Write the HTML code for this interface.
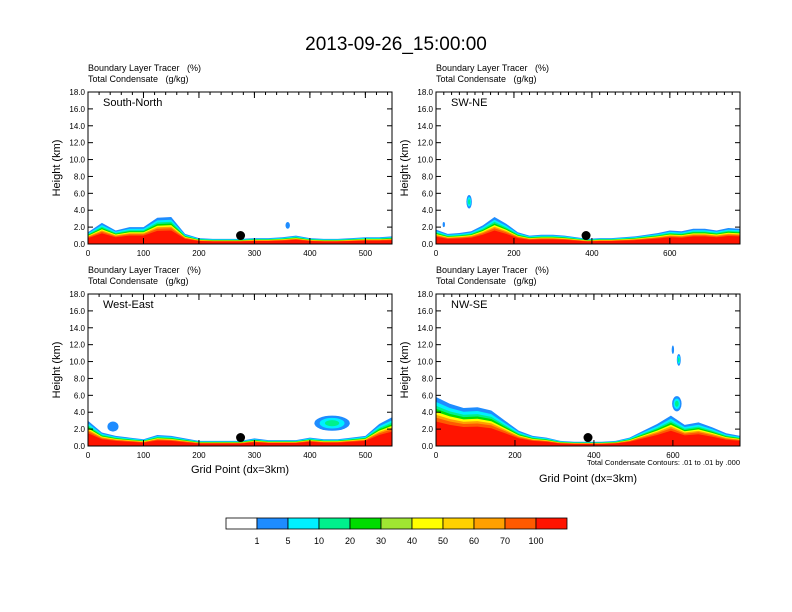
<!DOCTYPE html>
<html><head><meta charset="utf-8"><style>
body{margin:0;background:#fff}
svg{display:block;font-family:"Liberation Sans",sans-serif}
text{white-space:pre}
</style></head><body>
<svg id="c" width="792" height="612">
<text x="396" y="50" font-size="19" text-anchor="middle">2013-09-26_15:00:00</text>
</svg>
<script>
const ticksY=[0,2,4,6,8,10,12,14,16,18];
const levelLabels=["1","5","10","20","30","40","50","60","70","100"];
const colors=["#ffffff","#1e8cff","#00f0ff","#00f08c","#00dc00","#a0e632","#ffff00","#ffd200","#ffa000","#ff5a00","#ff1400"];
const snProfile=[1.4,2.5,1.6,2.0,2.0,3.1,3.2,1.2,0.7,0.6,0.6,0.6,0.7,0.7,0.8,1.0,0.7,0.6,0.6,0.7,0.8,0.8,0.9];
const swneProfile=[1.7,1.2,1.3,1.5,2.2,3.2,2.4,1.4,1.0,1.1,1.1,1.0,0.8,0.6,0.7,0.7,0.8,0.9,1.1,1.3,1.6,1.5,1.8,1.8,1.6,1.9,1.8];
const weProfile=[3.0,1.6,1.2,1.0,0.8,1.3,1.2,0.9,0.6,0.6,0.6,0.6,0.9,0.7,0.7,0.7,1.0,0.8,0.8,1.0,1.2,2.6,3.4];
const nwseProfile=[5.8,5.0,4.5,4.6,4.2,3.0,1.8,1.2,1.0,0.6,0.5,0.5,0.5,0.6,1.0,1.8,2.6,3.6,2.5,2.8,2.2,1.5,1.2];
const snBlobs=[[360,2.2,4,0.4,1]];
const swneBlobs=[[85,5.0,7,0.8,3],[20,2.3,3,0.3,1]];
const weBlobs=[[45,2.3,10,0.6,1],[440,2.7,32,0.9,3]];
const nwseBlobs=[[615,10.2,5,0.7,3],[600,11.4,3,0.5,1],[610,5.0,12,0.9,3]];
const panels=[
 {name:"South-North",x0:88,y0:92,xmax:548,step:25,prof:snProfile,blobs:snBlobs,xt:[0,100,200,300,400,500],dot:275,xl:false},
 {name:"SW-NE",x0:436,y0:92,xmax:780,step:30,prof:swneProfile,blobs:swneBlobs,xt:[0,200,400,600],dot:385,xl:false},
 {name:"West-East",x0:88,y0:294,xmax:548,step:25,prof:weProfile,blobs:weBlobs,xt:[0,100,200,300,400,500],dot:275,xl:true},
 {name:"NW-SE",x0:436,y0:294,xmax:770,step:35,prof:nwseProfile,blobs:nwseBlobs,xt:[0,200,400,600],dot:385,xl:true}];
const NS="http://www.w3.org/2000/svg",svg=document.getElementById('c');
function mk(t,a,p){const e=document.createElementNS(NS,t);for(const k in a)e.setAttribute(k,a[k]);(p||svg).appendChild(e);return e;}
const W=304,H=152,fr=[1,0.9,0.82,0.76,0.7,0.64,0.58,0.5];
panels.forEach((p,pi)=>{
 const g=mk('g',{});
 
 
 const sx=v=>p.x0+v/p.xmax*W, sy=v=>p.y0+H-v/18*H;
 const lay=[1,2,3,4,6,8,9,10];
 lay.forEach((ci,li)=>{
  let d="M"+sx(0)+","+sy(0);
  p.prof.forEach((h,i)=>{const x=Math.min(i*p.step,p.xmax);d+=" L"+sx(x).toFixed(1)+","+sy(h*fr[li]).toFixed(1);});
  d+=" L"+sx(p.xmax)+","+sy(0)+"Z";
  const e=mk('path',{d:d,fill:colors[ci]},g);
  
  
 });
 p.blobs.forEach(b=>{
  for(let k=0;k<=b[4]-1;k++){
   const s=1-k*0.3;
   const e=mk('ellipse',{cx:sx(b[0]),cy:sy(b[1]),rx:b[2]/p.xmax*W*s,ry:b[3]/18*H*s,fill:colors[k+1]},g);
   
   
  }
 });
 const dot=mk('circle',{cx:sx(p.dot),cy:sy(1.0),r:4.5,fill:"#000"},g);
 
 
 mk('rect',{x:p.x0,y:p.y0,width:W,height:H,fill:"none",stroke:"#000","stroke-width":1},g);
 ticksY.forEach(t=>{
  mk('line',{x1:p.x0,x2:p.x0+5,y1:sy(t),y2:sy(t),stroke:"#000"},g);
  mk('line',{x1:p.x0+W,x2:p.x0+W-5,y1:sy(t),y2:sy(t),stroke:"#000"},g);
  const e=mk('text',{x:p.x0-3,y:sy(t)+3,"font-size":8,"text-anchor":"end"},g);e.textContent=t.toFixed(1);
  
  
 });
 for(let v=0;v<=p.xmax;v+=20){mk('line',{x1:sx(v),x2:sx(v),y1:p.y0,y2:p.y0+3,stroke:"#000"},g);}
 p.xt.forEach(t=>{
  mk('line',{x1:sx(t),x2:sx(t),y1:p.y0,y2:p.y0+6,stroke:"#000"},g);
  mk('line',{x1:sx(t),x2:sx(t),y1:p.y0+H,y2:p.y0+H-6,stroke:"#000"},g);
  const e=mk('text',{x:sx(t),y:p.y0+H+12,"font-size":8,"text-anchor":"middle"},g);e.textContent=t;
  
  
 });
 let e=mk('text',{x:p.x0+15,y:p.y0+14,"font-size":11},g);e.textContent=p.name;
 
 
 e=mk('text',{x:p.x0,y:p.y0-21,"font-size":9},g);e.textContent="Boundary Layer Tracer   (%)";
 
 
 e=mk('text',{x:p.x0,y:p.y0-10,"font-size":9},g);e.textContent="Total Condensate   (g/kg)";
 
 
 e=mk('text',{x:0,y:0,"font-size":11,"text-anchor":"middle",transform:"translate("+(p.x0-28)+","+(p.y0+H/2)+") rotate(-90)"},g);e.textContent="Height (km)";
 
 
 if(p.xl){
  e=mk('text',{x:p.x0+W/2,y:p.y0+H+(pi==3?36:27),"font-size":11,"text-anchor":"middle"},g);e.textContent="Grid Point (dx=3km)";
  
  
 }
 if(pi==3){
  e=mk('text',{x:p.x0+W,y:p.y0+H+19,"font-size":7.5,"text-anchor":"end"},g);e.textContent="Total Condensate Contours: .01 to .01 by .000";
  
  
 }
});
const cb=mk('g',{});


colors.forEach((c,i)=>{
 const r=mk('rect',{x:226+i*31,y:518,width:31,height:11,fill:c,stroke:"#000","stroke-width":0.8},cb);
 
 
});
levelLabels.forEach((l,i)=>{
 const t=mk('text',{x:226+(i+1)*31,y:544,"font-size":9,"text-anchor":"middle"},cb);t.textContent=l;
 
 
});
</script>
</body></html>
